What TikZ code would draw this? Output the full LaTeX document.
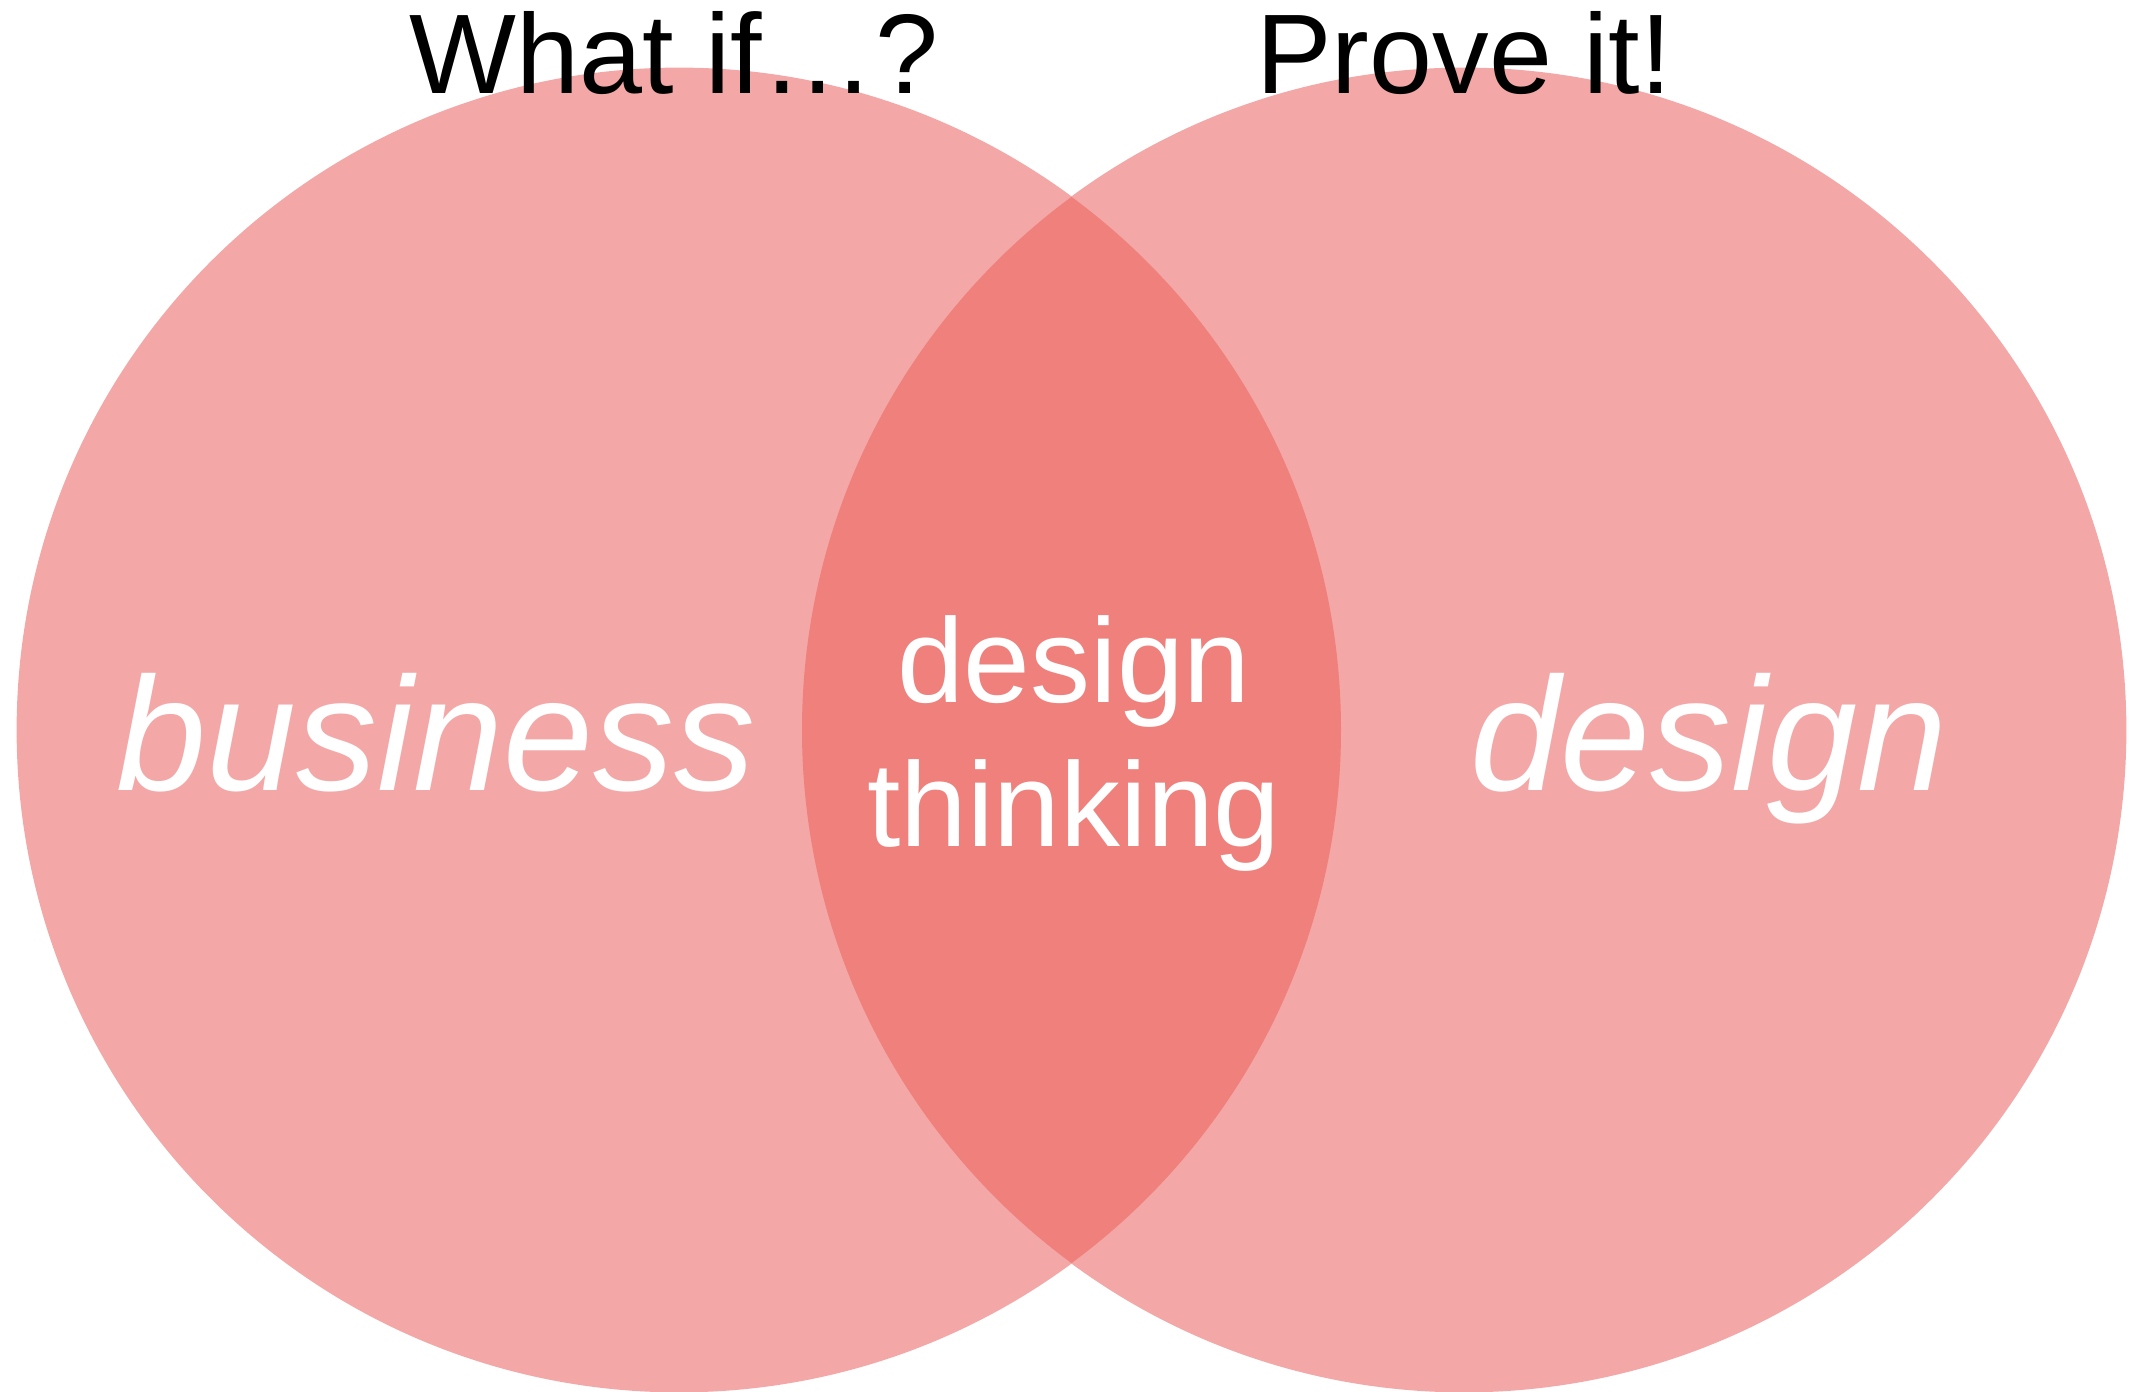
\documentclass[tikz,border=0pt]{standalone}
\usepackage{fontspec}
\setmainfont{Liberation Sans}
\usepackage{tikz}
\usetikzlibrary{
  positioning,
}
\definecolor{vennpink}{RGB}{243, 168, 167}
\definecolor{vennred}{RGB}{239, 128, 124}
\tikzstyle{set} = [
  circle,
  fill=vennpink,
  minimum size=13.24cm,
  inner sep=0pt,
]
\tikzstyle{motto} = [
  anchor=base,
  inner sep=0pt,
  font=\fontsize{32.2}{38}\selectfont,
]
\tikzstyle{setlabel} = [
  anchor=base,
  inner sep=0pt,
  text=white,
  font=\fontsize{46}{55}\selectfont\itshape,
]

\begin{document}
\begin{tikzpicture}[x=0.01cm, y=-0.01cm]

      \useasboundingbox (0,0) rectangle (2135,1392);

      \node[set] (business) at (679,730) {};
      \node[set] (design) at (1464,730) {};
      \begin{scope}
        \clip (business.center) circle[radius=662];
        \fill[vennred] (design.center) circle[radius=662];
      \end{scope}

      \node[motto] (whatif) at (674,94) {What if…?};
      \node[motto] (proveit) at (1464,94) {Prove it!};

      \node[setlabel] (blabel) at (436,791) {business};
      \node[setlabel] (dlabel) at (1709,791) {design};
      \node[anchor=base, inner sep=0pt, text=white, align=center,
            font=\fontsize{34.1}{41}\selectfont] (dtlabel) at (1074,847) {design\\thinking};
      \end{tikzpicture}
\end{document}
